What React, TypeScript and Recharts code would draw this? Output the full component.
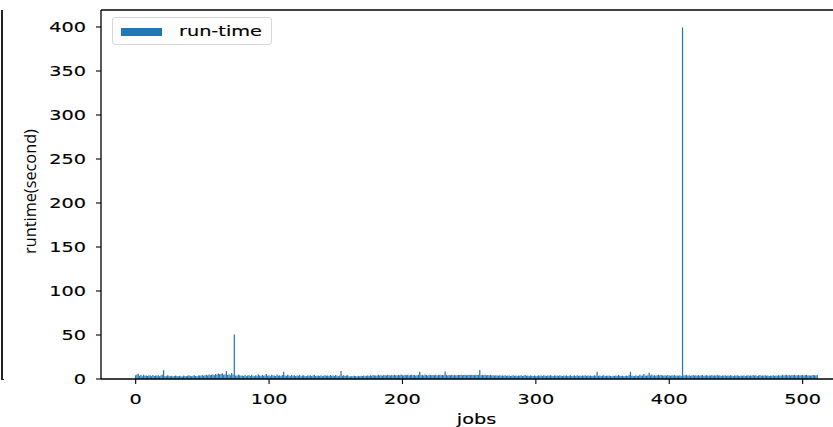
import React from "react";
import { BarChart, Bar, XAxis, YAxis, ReferenceLine, Legend } from "recharts";

// runtime (seconds) of each job, index = job number 0..511
const runtimes: number[] = [
  4.2, 5.1, 6.0, 3.8, 4.5, 3.2, 4.9, 3.6, 4.1, 3.3, 4.4, 3.9, 3.1, 4.6, 3.5, 4.0,
  3.7, 4.3, 3.2, 3.9, 4.8, 10.0, 3.4, 3.0, 4.2, 3.6, 3.1, 3.8, 2.9, 3.5, 4.0, 3.3,
  3.0, 3.6, 3.2, 2.8, 3.9, 3.4, 3.1, 3.7, 4.2, 3.3, 3.0, 3.8, 4.4, 3.5, 3.2, 3.9,
  4.1, 3.6, 4.5, 3.8, 4.3, 4.7, 3.9, 5.2, 4.4, 4.8, 5.0, 4.3, 5.6, 4.9, 6.2, 5.3,
  5.8, 6.5, 4.7, 5.1, 9.0, 4.6, 5.4, 4.2, 6.8, 4.9, 50.5, 4.1, 3.8, 5.2, 4.4, 3.6,
  4.0, 3.5, 4.6, 3.2, 3.9, 4.3, 3.4, 4.8, 3.7, 3.1, 4.2, 3.6, 5.3, 3.9, 3.3, 4.5,
  3.8, 4.1, 5.8, 3.6, 4.4, 3.2, 4.7, 3.9, 4.0, 3.5, 5.1, 3.7, 4.3, 3.4, 4.6, 8.2,
  4.1, 3.6, 4.8, 3.9, 3.2, 4.5, 3.7, 4.2, 3.3, 4.0, 3.8, 4.6, 3.1, 3.9, 4.4, 3.5,
  3.2, 4.0, 3.6, 4.3, 3.4, 3.9, 4.7, 3.3, 3.8, 4.1, 3.5, 4.4, 3.0, 3.7, 4.2, 3.6,
  3.9, 3.3, 4.5, 3.7, 4.0, 3.4, 4.6, 3.8, 3.2, 4.1, 9.1, 3.6, 4.3, 3.5, 3.9, 4.2,
  3.1, 2.8, 3.5, 3.0, 3.7, 3.3, 2.9, 3.6, 3.2, 3.8, 3.4, 4.0, 3.1, 3.6, 3.9, 3.3,
  4.2, 3.7, 4.5, 3.9, 4.1, 3.6, 4.8, 4.0, 4.3, 3.8, 4.6, 4.2, 3.9, 4.7, 4.4, 4.0,
  4.5, 4.1, 4.8, 4.3, 3.9, 4.6, 4.2, 5.0, 4.4, 4.0, 4.7, 4.3, 4.9, 4.1, 4.5, 4.8,
  4.2, 4.6, 4.0, 4.4, 4.9, 8.3, 4.3, 4.7, 4.1, 5.2, 4.5, 4.0, 4.8, 4.4, 4.2, 4.6,
  4.3, 4.8, 4.1, 4.5, 4.9, 4.2, 4.6, 4.4, 8.4, 4.7, 4.0, 4.5, 4.3, 4.8, 4.1, 4.6,
  4.4, 4.2, 4.7, 4.5, 4.9, 4.3, 4.6, 4.8, 4.2, 4.5, 4.7, 4.4, 4.9, 4.6, 4.3, 4.8,
  4.5, 4.7, 10.2, 4.4, 4.6, 4.3, 4.8, 4.1, 4.5, 4.2, 4.7, 4.0, 4.4, 3.9, 4.3, 4.1,
  3.8, 4.2, 3.6, 4.0, 3.7, 4.3, 3.5, 3.9, 4.1, 3.4, 3.8, 4.4, 3.6, 3.9, 3.3, 4.0,
  3.7, 4.2, 3.5, 3.8, 4.5, 3.6, 3.9, 3.4, 4.1, 3.7, 3.3, 4.0, 3.8, 3.5, 4.3, 3.6,
  3.9, 3.4, 4.2, 3.7, 3.5, 4.0, 3.6, 4.4, 3.8, 3.3, 4.1, 3.7, 3.9, 3.5, 4.2, 3.6,
  3.4, 3.9, 3.6, 4.1, 3.3, 3.8, 4.3, 3.5, 3.7, 4.0, 3.4, 4.2, 3.6, 3.9, 3.5, 4.1,
  3.7, 4.4, 3.5, 3.9, 3.6, 4.0, 3.4, 3.8, 4.2, 3.6, 8.1, 3.7, 4.1, 3.5, 3.9, 4.4,
  3.3, 3.8, 3.6, 4.0, 3.4, 3.2, 3.7, 3.5, 3.9, 3.3, 4.6, 3.6, 3.4, 3.8, 3.1, 3.5,
  3.9, 3.4, 4.5, 8.3, 3.6, 3.8, 3.3, 4.2, 3.5, 3.7, 4.8, 3.6, 3.9, 5.6, 4.1, 3.7,
  4.3, 7.2, 4.0, 5.1, 3.8, 4.4, 3.6, 4.2, 4.9, 3.9, 4.5, 4.1, 3.7, 4.3, 3.8, 4.6,
  4.0, 3.7, 4.2, 3.9, 4.4, 3.6, 4.1, 3.8, 4.3, 3.5, 399.5, 3.9, 4.2, 4.7, 3.8, 4.4,
  3.6, 4.1, 4.6, 3.9, 4.3, 3.7, 4.5, 3.8, 4.2, 4.6, 3.5, 4.0, 4.4, 3.7, 4.1, 3.9,
  4.5, 3.6, 4.2, 3.8, 4.7, 3.9, 4.3, 3.5, 4.1, 3.8, 4.4, 3.6, 4.0, 3.7, 4.2, 3.9,
  3.5, 4.1, 3.7, 4.3, 3.8, 3.4, 4.0, 3.6, 4.2, 3.5, 3.9, 4.4, 3.7, 4.1, 3.6, 4.5,
  3.8, 4.2, 3.5, 3.9, 4.6, 3.7, 4.0, 3.6, 4.3, 3.8, 4.1, 3.5, 3.9, 3.7, 4.2, 3.6,
  4.0, 3.8, 4.4, 3.6, 4.1, 4.7, 3.9, 4.3, 4.8, 4.0, 4.5, 3.8, 4.6, 4.2, 4.9, 4.1,
  4.4, 4.7, 3.9, 4.3, 4.6, 4.0, 4.5, 4.8, 4.1, 4.4, 3.8, 4.2, 4.6, 4.3, 3.9, 4.5,
];

const xTicks: number[] = [0, 100, 200, 300, 400, 500];
const yTicks: number[] = [0, 50, 100, 150, 200, 250, 300, 350, 400];
const xDomain: [number, number] = [-26, 537];
const yDomain: [number, number] = [0, 419.3];
const seriesName = "run-time";
const xLabel = "jobs";
const yLabel = "runtime(second)";

const data = runtimes.map((v, i) => ({ job: i, runtime: v }));

const FONT = "DejaVu Sans";
const SX = 1.33;
const BLUE = "#1f77b4";

const YTick = (props: any) => {
  const { x, y, payload } = props;
  return (
    <text
      transform={`translate(${x},${y + 5.2}) scale(${SX},1)`}
      textAnchor="end"
      fontFamily={FONT}
      fontSize={14.5}
      fill="#000"
      stroke="#000"
      strokeWidth={0.15}
    >
      {payload.value}
    </text>
  );
};

const XTick = (props: any) => {
  const { x, y, payload } = props;
  return (
    <text
      transform={`translate(${x},${y + 17.5}) scale(${SX},1)`}
      textAnchor="middle"
      fontFamily={FONT}
      fontSize={14.5}
      fill="#000"
      stroke="#000"
      strokeWidth={0.15}
    >
      {payload.value}
    </text>
  );
};

const XLabel = (props: any) => {
  const vb = props.viewBox || { x: 101, width: 751, y: 379 };
  const cx = vb.x + vb.width / 2;
  return (
    <text
      transform={`translate(${cx},423.5) scale(${SX},1)`}
      textAnchor="middle"
      fontFamily={FONT}
      fontSize={14.5}
      fill="#000"
      stroke="#000"
      strokeWidth={0.15}
    >
      {xLabel}
    </text>
  );
};

const YLabel = (props: any) => {
  const vb = props.viewBox || { y: 10, height: 369 };
  const cy = vb.y + vb.height / 2 - 3;
  return (
    <text
      transform={`translate(36,${cy}) rotate(-90)`}
      textAnchor="middle"
      fontFamily="Open Sans"
      fontSize={16.3}
      fill="#000"
    >
      {yLabel}
    </text>
  );
};

const LegendBox = () => (
  <div
    style={{
      width: 158,
      height: 26,
      border: "1px solid #d6d6d6",
      borderRadius: 3,
      background: "rgba(255,255,255,0.8)",
      position: "relative",
      boxSizing: "content-box",
    }}
  >
    <div
      style={{
        position: "absolute",
        left: 8,
        top: 9.5,
        width: 41,
        height: 8.5,
        background: BLUE,
      }}
    />
    <div
      style={{
        position: "absolute",
        left: 66,
        top: 3,
        fontFamily: FONT,
        fontSize: 14.5,
        lineHeight: "20px",
        whiteSpace: "nowrap",
        transform: `scaleX(${SX})`,
        transformOrigin: "left center",
        color: "#000",
        WebkitTextStroke: "0.15px #000",
      }}
    >
      {seriesName}
    </div>
  </div>
);

export default function App() {
  return (
    <div
      style={{
        position: "absolute",
        left: 0,
        top: 0,
        width: 833,
        height: 427,
        overflow: "hidden",
        background: "#fff",
      }}
    >
      <div
        style={{
          position: "absolute",
          left: 1,
          top: 10,
          width: 1.6,
          height: 370,
          background: "#222",
        }}
      />
      <div
        style={{
          position: "absolute",
          left: 1,
          top: 378.5,
          width: 3,
          height: 1.4,
          background: "#222",
        }}
      />
      <BarChart
        width={870}
        height={427}
        data={data}
        margin={{ top: 10, right: 18, left: 0, bottom: 0 }}
        barCategoryGap={0}
        style={{ position: "absolute", left: 0, top: 0 }}
      >
        <XAxis
          dataKey="job"
          type="number"
          domain={xDomain}
          ticks={xTicks}
          allowDataOverflow
          height={48}
          tickSize={5}
          tickMargin={2}
          axisLine={{ stroke: "#000", strokeWidth: 1.3 }}
          tickLine={{ stroke: "#000", strokeWidth: 1.1 }}
          tick={<XTick />}
          interval={0}
          label={<XLabel />}
        />
        <YAxis
          type="number"
          domain={yDomain}
          ticks={yTicks}
          allowDataOverflow
          width={101}
          tickSize={5}
          tickMargin={10}
          axisLine={{ stroke: "#000", strokeWidth: 1.3 }}
          tickLine={{ stroke: "#000", strokeWidth: 1.1 }}
          tick={<YTick />}
          interval={0}
          label={<YLabel />}
        />
        <ReferenceLine y={yDomain[1]} stroke="#000" strokeWidth={1.5} />
        <ReferenceLine x={xDomain[1]} stroke="#000" strokeWidth={1.5} />
        <Legend
          layout="horizontal"
          verticalAlign="middle"
          align="center"
          wrapperStyle={{ left: 112, top: 17, width: 170, height: 30 }}
          content={<LegendBox />}
        />
        <Bar
          dataKey="runtime"
          name={seriesName}
          fill={BLUE}
          barSize={1.4}
          isAnimationActive={false}
        />
      </BarChart>
    </div>
  );
}
